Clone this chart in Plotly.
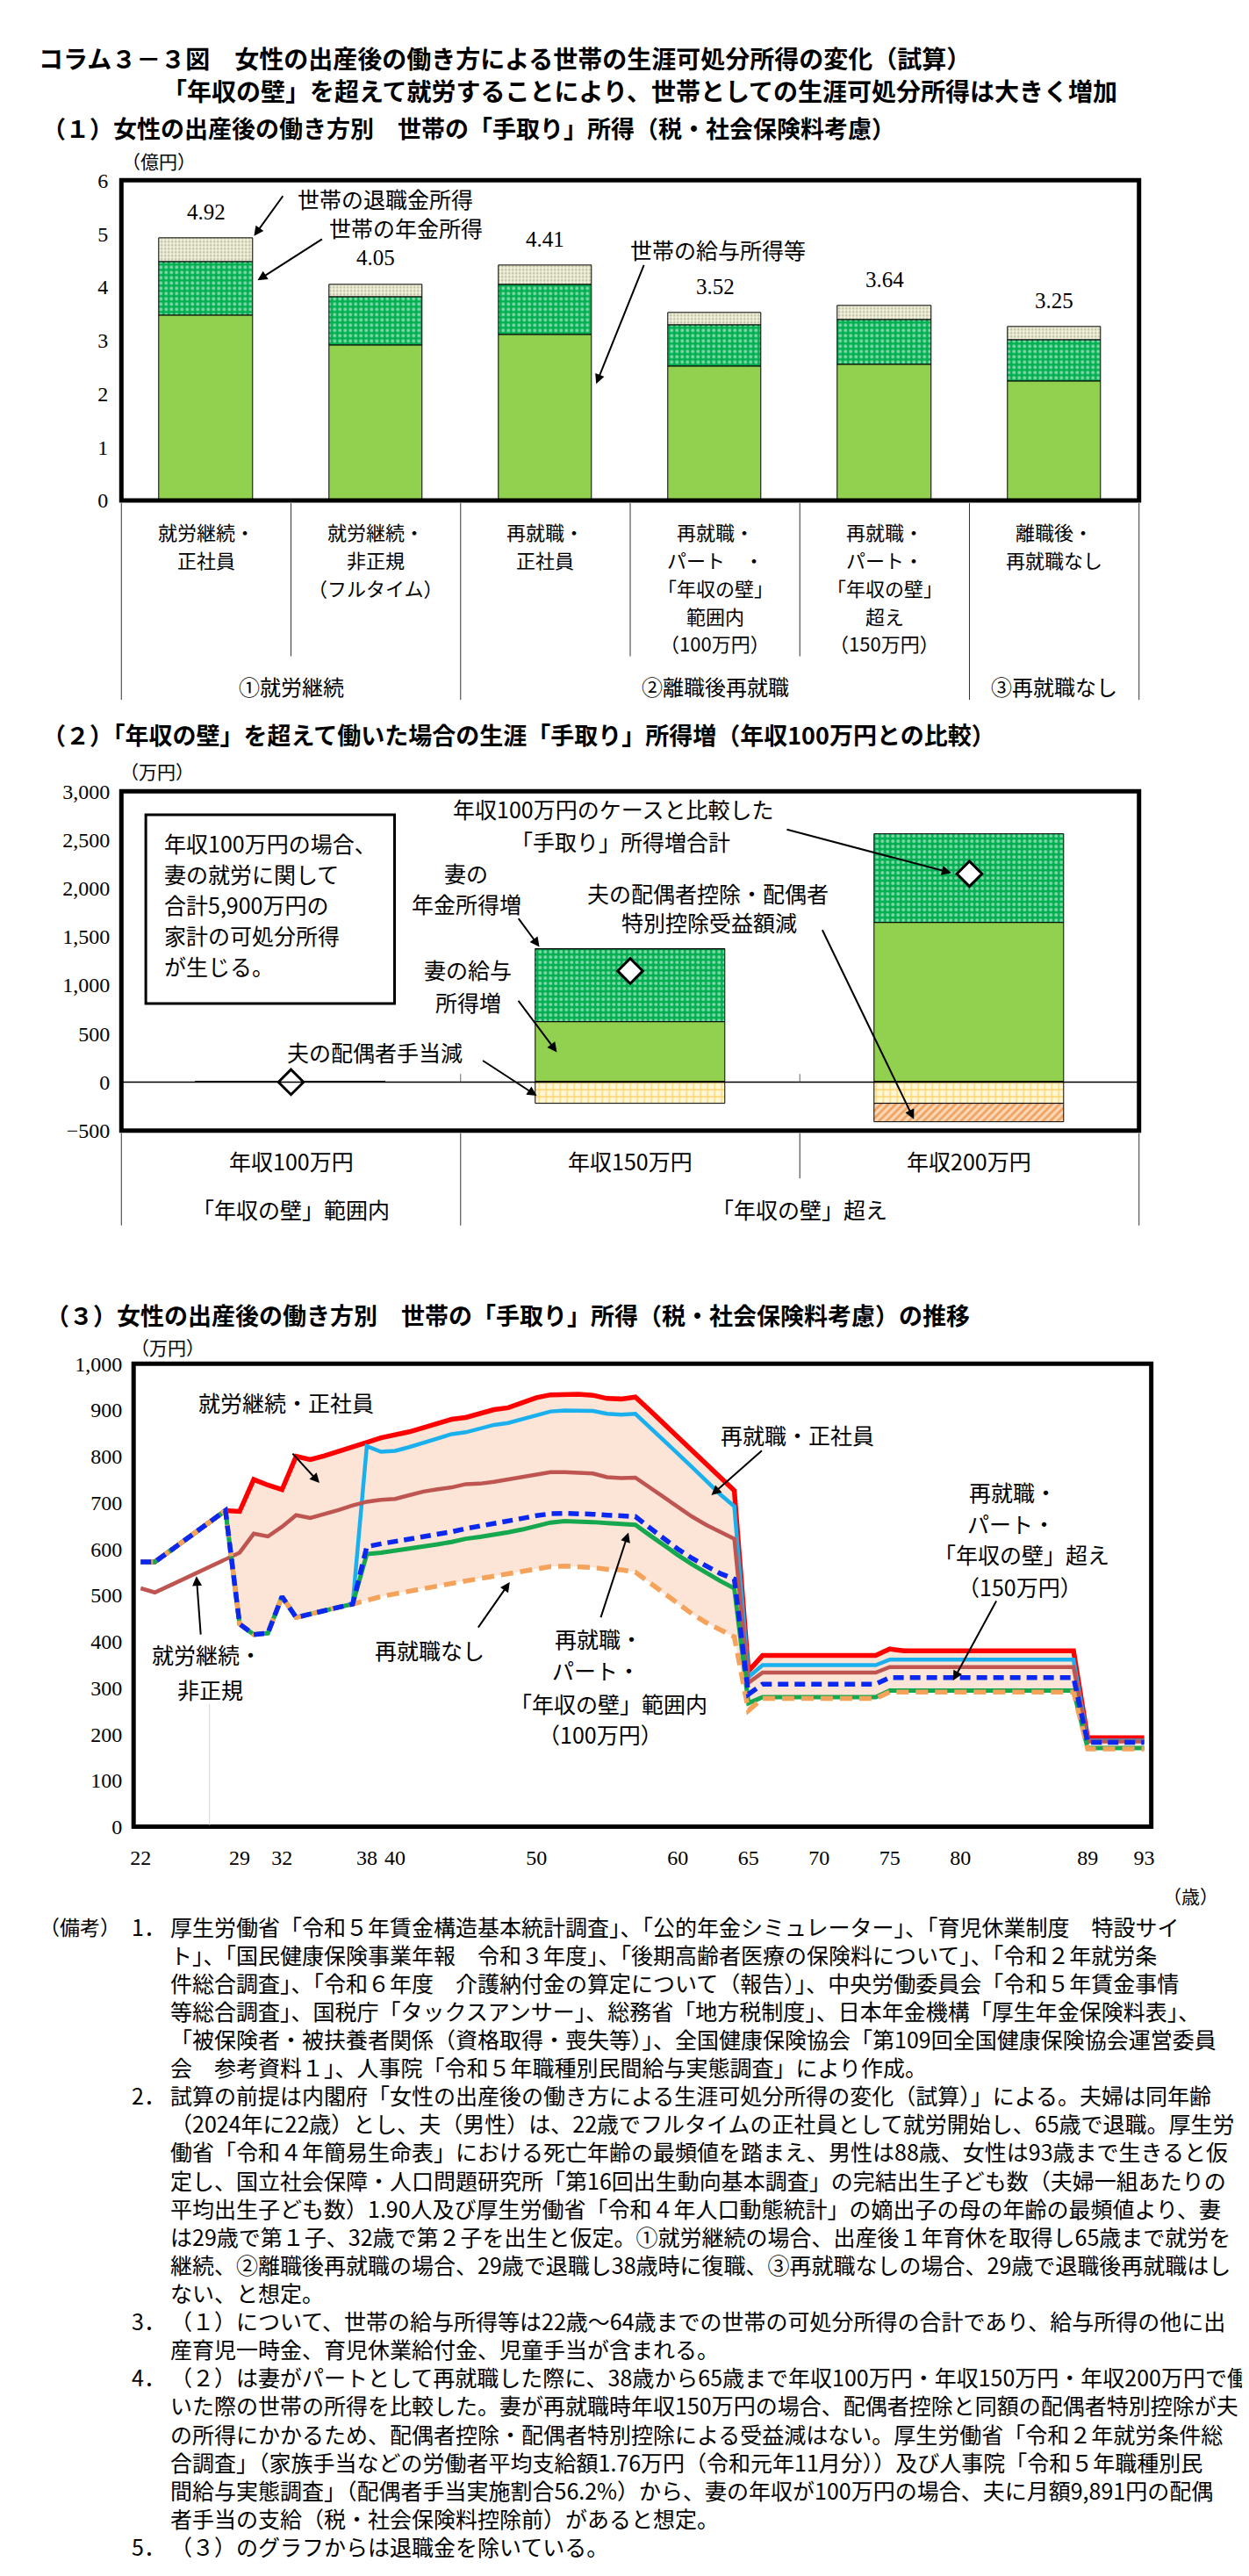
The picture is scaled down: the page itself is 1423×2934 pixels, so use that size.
import plotly.graph_objects as go

W, H = 1423, 2934
JP = "Noto Sans CJK JP"
SERIF = "Liberation Serif"


def px(x):
    return x / W


def py(y):
    return 1 - y / H


# ---------------- titles ----------------
title_main = "コラム３－３図　女性の出産後の働き方による世帯の生涯可処分所得の変化（試算）"
title_sub = "「年収の壁」を超えて就労することにより、世帯としての生涯可処分所得は大きく増加"
heading_1 = "（１）女性の出産後の働き方別　世帯の「手取り」所得（税・社会保険料考慮）"
heading_2 = "（２）「年収の壁」を超えて働いた場合の生涯「手取り」所得増（年収100万円との比較）"
heading_3 = "（３）女性の出産後の働き方別　世帯の「手取り」所得（税・社会保険料考慮）の推移"

# ---------------- panel 1 data ----------------
p1_labels = ["就労継続・<br>正社員",
             "就労継続・<br>非正規<br>（フルタイム）",
             "再就職・<br>正社員",
             "再就職・<br>パート　・<br>「年収の壁」<br>範囲内<br>（100万円）",
             "再就職・<br>パート・<br>「年収の壁」<br>超え<br>（150万円）",
             "離職後・<br>再就職なし"]
p1_groups = ["①就労継続", "②離職後再就職", "③再就職なし"]
p1_group_span = [(0, 1), (2, 4), (5, 5)]
p1_salary = [3.47, 2.91, 3.10, 2.52, 2.54, 2.23]
p1_pension = [1.00, 0.91, 0.94, 0.76, 0.85, 0.77]
p1_retire = [0.45, 0.23, 0.37, 0.24, 0.25, 0.25]
p1_total = [4.92, 4.05, 4.41, 3.52, 3.64, 3.25]

# ---------------- panel 2 data ----------------
p2_labels = ["年収100万円", "年収150万円", "年収200万円"]
p2_groups = ["「年収の壁」範囲内", "「年収の壁」超え"]
p2_group_span = [(0, 0), (1, 2)]
p2_salary = [0, 620, 1640]
p2_pension = [0, 750, 920]
p2_allowance = [0, -224, -224]
p2_deduction = [0, 0, -188]
p2_total = [0, 1146, 2148]
p2_box_lines = ["年収100万円の場合、", "妻の就労に関して", "合計5,900万円の", "家計の可処分所得", "が生じる。"]

# ---------------- panel 3 data ----------------
ages = list(range(22, 94))
p3_ticks = [22, 29, 32, 38, 40, 50, 60, 65, 70, 75, 80, 89, 93]
p3_red = [572, 572, 594, 616, 638, 660, 683,
          681, 750, 738, 728, 800, 793, 801, 810, 820,
          830, 840, 846, 853, 862, 872, 880, 884, 893, 901, 905, 916, 927, 933, 934, 934, 932, 925, 924, 928,
          900, 871, 842, 813, 784, 755, 726,
          336,
          370, 370, 370, 370, 370, 370, 370, 370, 370,
          384, 380, 380, 380, 380, 380, 380, 380, 380, 380, 380, 380, 380, 380,
          192, 192, 192, 192, 192]
p3_lightblue = [572, 572, 594, 616, 638, 660, 683,
                438, 415, 418, 497, 452, 460, 466, 474, 481,
                822, 810, 812, 820, 829, 838, 848, 852, 860, 868, 872, 880, 890, 897, 899, 899, 898, 892, 890, 892,
                864, 835, 806, 777, 748, 718, 692,
                323,
                349, 349, 349, 349, 349, 349, 349, 349, 349,
                361, 361, 361, 361, 361, 361, 361, 361, 361, 361, 361, 361, 361, 361,
                186, 186, 186, 186, 186]
p3_brown = [515, 506, 520, 534, 548, 562, 577,
            592, 633, 627, 648, 673, 667, 675, 684, 694,
            702, 706, 708, 716, 724, 729, 733, 740, 741, 745, 750, 754, 761, 766, 766, 765, 763, 755, 753, 754,
            733, 711, 690, 670, 652, 636, 622,
            311,
            333, 333, 333, 333, 333, 333, 333, 333, 333,
            345, 345, 345, 345, 345, 345, 345, 345, 345, 345, 345, 345, 345, 345,
            184, 184, 184, 184, 184]
p3_blue = [572, 572, 594, 616, 638, 660, 683,
           438, 415, 418, 497, 452, 460, 466, 474, 481,
           605, 611, 616, 621, 627, 632, 637, 644, 649, 654, 660, 666, 672, 676, 677, 677, 675, 673, 672, 670,
           646, 622, 600, 580, 562, 547, 535,
           286,
           308, 308, 308, 308, 308, 308, 308, 308, 308,
           322, 322, 322, 322, 322, 322, 322, 322, 322, 322, 322, 322, 322, 322,
           182, 182, 182, 182, 182]
p3_green = [572, 572, 594, 616, 638, 660, 683,
            438, 415, 418, 497, 452, 460, 466, 474, 481,
            589, 592, 596, 600, 605, 610, 615, 622, 626, 630, 636, 642, 650, 657, 660, 660, 658, 656, 655, 652,
            630, 608, 587, 567, 548, 531, 515,
            267,
            280, 280, 280, 280, 280, 280, 280, 280, 280,
            294, 294, 294, 294, 294, 294, 294, 294, 294, 294, 294, 294, 294, 294,
            170, 170, 170, 170, 170]
p3_orange = [572, 572, 594, 616, 638, 660, 683,
             438, 415, 418, 497, 452, 460, 466, 474, 481,
             490, 497, 503, 509, 515, 520, 526, 531, 536, 541, 546, 551, 557, 562, 563, 562, 560, 556, 555, 550,
             527, 503, 481, 460, 441, 425, 410,
             251,
             277, 277, 277, 277, 277, 277, 277, 277, 277,
             291, 291, 291, 291, 291, 291, 291, 291, 291, 291, 291, 291, 291, 291,
             168, 168, 168, 168, 168]

# ---------------- notes ----------------
notes = [
    ("1．", ["厚生労働省「令和５年賃金構造基本統計調査」、「公的年金シミュレーター」、「育児休業制度　特設サイ",
            "ト」、「国民健康保険事業年報　令和３年度」、「後期高齢者医療の保険料について」、「令和２年就労条",
            "件総合調査」、「令和６年度　介護納付金の算定について（報告）」、中央労働委員会「令和５年賃金事情",
            "等総合調査」、国税庁「タックスアンサー」、総務省「地方税制度」、日本年金機構「厚生年金保険料表」、",
            "「被保険者・被扶養者関係（資格取得・喪失等）」、全国健康保険協会「第109回全国健康保険協会運営委員",
            "会　参考資料１」、人事院「令和５年職種別民間給与実態調査」により作成。"]),
    ("2．", ["試算の前提は内閣府「女性の出産後の働き方による生涯可処分所得の変化（試算）」による。夫婦は同年齢",
            "（2024年に22歳）とし、夫（男性）は、22歳でフルタイムの正社員として就労開始し、65歳で退職。厚生労",
            "働省「令和４年簡易生命表」における死亡年齢の最頻値を踏まえ、男性は88歳、女性は93歳まで生きると仮",
            "定し、国立社会保障・人口問題研究所「第16回出生動向基本調査」の完結出生子ども数（夫婦一組あたりの",
            "平均出生子ども数）1.90人及び厚生労働省「令和４年人口動態統計」の嫡出子の母の年齢の最頻値より、妻",
            "は29歳で第１子、32歳で第２子を出生と仮定。①就労継続の場合、出産後１年育休を取得し65歳まで就労を",
            "継続、②離職後再就職の場合、29歳で退職し38歳時に復職、③再就職なしの場合、29歳で退職後再就職はし",
            "ない、と想定。"]),
    ("3．", ["（１）について、世帯の給与所得等は22歳～64歳までの世帯の可処分所得の合計であり、給与所得の他に出",
            "産育児一時金、育児休業給付金、児童手当が含まれる。"]),
    ("4．", ["（２）は妻がパートとして再就職した際に、38歳から65歳まで年収100万円・年収150万円・年収200万円で働",
            "いた際の世帯の所得を比較した。妻が再就職時年収150万円の場合、配偶者控除と同額の配偶者特別控除が夫",
            "の所得にかかるため、配偶者控除・配偶者特別控除による受益減はない。厚生労働省「令和２年就労条件総",
            "合調査」（家族手当などの労働者平均支給額1.76万円（令和元年11月分））及び人事院「令和５年職種別民",
            "間給与実態調査」（配偶者手当実施割合56.2%）から、妻の年収が100万円の場合、夫に月額9,891円の配偶",
            "者手当の支給（税・社会保険料控除前）があると想定。"]),
    ("5．", ["（３）のグラフからは退職金を除いている。"]),
]

# ---------------- layout geometry (pixels) ----------------
P1_L, P1_R, P1_T, P1_B = 127, 1293, 186, 554
P2_L, P2_R, P2_T, P2_B = 127, 1293, 888, 1278
P3_L, P3_R, P3_T, P3_B = 141, 1307, 1546, 2078

fig = go.Figure()

# panel 1 bars
fig.add_trace(go.Bar(x=list(range(6)), y=p1_salary, width=0.55, xaxis="x", yaxis="y",
                     marker=dict(color="#92D050", line=dict(color="black", width=1))))
fig.add_trace(go.Bar(x=list(range(6)), y=p1_pension, width=0.55, xaxis="x", yaxis="y",
                     marker=dict(color="#00B050", line=dict(color="black", width=1),
                                 pattern=dict(shape=".", fgcolor="white", bgcolor="#00B050",
                                              size=6, solidity=0.35))))
fig.add_trace(go.Bar(x=list(range(6)), y=p1_retire, width=0.55, xaxis="x", yaxis="y",
                     marker=dict(color="#EFEFD8", line=dict(color="black", width=1),
                                 pattern=dict(shape=".", fgcolor="#8E8E5E", bgcolor="#F4F4E2",
                                              size=4, solidity=0.4))))

# panel 2 bars
fig.add_trace(go.Bar(x=list(range(3)), y=p2_salary, width=0.56, xaxis="x2", yaxis="y2",
                     marker=dict(color="#92D050", line=dict(color="black", width=1))))
fig.add_trace(go.Bar(x=list(range(3)), y=p2_pension, width=0.56, xaxis="x2", yaxis="y2",
                     marker=dict(color="#00B050", line=dict(color="black", width=1),
                                 pattern=dict(shape=".", fgcolor="white", bgcolor="#00B050",
                                              size=6, solidity=0.35))))
fig.add_trace(go.Bar(x=list(range(3)), y=p2_allowance, width=0.56, xaxis="x2", yaxis="y2",
                     marker=dict(color="#FFD966", line=dict(color="black", width=1),
                                 pattern=dict(shape="+", fgcolor="#F5B400", bgcolor="#FFF6D5",
                                              size=8, solidity=0.3))))
fig.add_trace(go.Bar(x=list(range(3)), y=p2_deduction, width=0.56, xaxis="x2", yaxis="y2",
                     marker=dict(color="#F4B183", line=dict(color="black", width=1),
                                 pattern=dict(shape="/", fgcolor="#E36C0A", bgcolor="#FAD7B5",
                                              size=6, solidity=0.45))))
fig.add_trace(go.Scatter(x=list(range(3)), y=p2_total, mode="markers", xaxis="x2", yaxis="y2",
                         marker=dict(symbol="diamond", size=22, color="white",
                                     line=dict(color="black", width=3))))

# panel 3 lines
fig.add_trace(go.Scatter(x=ages, y=p3_orange, mode="lines", xaxis="x3", yaxis="y3",
                         line=dict(width=0, color="rgba(0,0,0,0)"), hoverinfo="skip"))
fig.add_trace(go.Scatter(x=ages, y=p3_red, mode="lines", xaxis="x3", yaxis="y3", fill="tonexty",
                         fillcolor="#FCE4D6", line=dict(width=0, color="rgba(0,0,0,0)"), hoverinfo="skip"))
fig.add_trace(go.Scatter(x=ages, y=p3_red, mode="lines", xaxis="x3", yaxis="y3",
                         line=dict(color="#FF0000", width=5.5)))
fig.add_trace(go.Scatter(x=ages, y=p3_lightblue, mode="lines", xaxis="x3", yaxis="y3",
                         line=dict(color="#1AB0EE", width=4.5)))
fig.add_trace(go.Scatter(x=ages, y=p3_brown, mode="lines", xaxis="x3", yaxis="y3",
                         line=dict(color="#BE5550", width=4.5)))
fig.add_trace(go.Scatter(x=ages, y=p3_green, mode="lines", xaxis="x3", yaxis="y3",
                         line=dict(color="#16A84E", width=5)))
fig.add_trace(go.Scatter(x=ages, y=p3_orange, mode="lines", xaxis="x3", yaxis="y3",
                         line=dict(color="#F5A25A", width=5.5, dash="14px,8px")))
fig.add_trace(go.Scatter(x=ages, y=p3_blue, mode="lines", xaxis="x3", yaxis="y3",
                         line=dict(color="#0A28F0", width=5.5, dash="12px,7px")))

# ---------------- annotations ----------------
ann = []


def txt(x, y, s, size, anchor="center", bold=False, family=JP):
    ann.append(dict(x=px(x), y=py(y), xref="paper", yref="paper", text=s, showarrow=False,
                    xanchor=anchor, yanchor="middle",
                    font=dict(family=family, size=size, color="black",
                              weight="bold" if bold else "normal")))


def arrow(x0, y0, x1, y1):
    ann.append(dict(x=px(x1), y=py(y1), xref="paper", yref="paper", text="", showarrow=True,
                    ax=x0 - x1, ay=y0 - y1, arrowhead=2, arrowsize=1.1, arrowwidth=2,
                    arrowcolor="black", standoff=0))


# titles
txt(30, 45, title_main, 28, "left", True)
txt(172, 83, title_sub, 28, "left", True)
txt(34, 126, heading_1, 27, "left", True)
txt(34, 823, heading_2, 27, "left", True)
txt(38, 1490, heading_3, 27, "left", True)

# units
txt(170, 163, "（億円）", 21)
txt(168, 865, "（万円）", 21)
txt(180, 1527, "（万円）", 21)
txt(1352, 2157, "（歳）", 21)

# panel 1 value labels
for i, v in enumerate(p1_total):
    ann.append(dict(x=i, y=v, xref="x", yref="y", text=f"{v:.2f}", showarrow=False,
                    yshift=30, font=dict(family=SERIF, size=25, color="black")))

# panel 1 category labels
for i, lab in enumerate(p1_labels):
    for k, line in enumerate(lab.split("<br>")):
        ann.append(dict(x=i, y=py(589 + 32.2 * k), xref="x", yref="paper", text=line,
                        showarrow=False, xanchor="center", yanchor="middle",
                        font=dict(family=JP, size=22, color="black")))
for g, (a, b) in zip(p1_groups, p1_group_span):
    ann.append(dict(x=(a + b) / 2, y=py(767), xref="x", yref="paper", text=g, showarrow=False,
                    xanchor="center", yanchor="middle", font=dict(family=JP, size=24, color="black")))

# panel 1 callouts
txt(327, 207, "世帯の退職金所得", 25, "left")
txt(363, 240, "世帯の年金所得", 25, "left")
txt(708, 265, "世帯の給与所得等", 25, "left")
arrow(313, 203, 279, 250)
arrow(358, 253, 283, 301)
arrow(726, 283, 671, 420)

# panel 2 category labels
for i, lab in enumerate(p2_labels):
    ann.append(dict(x=i, y=py(1313), xref="x2", yref="paper", text=lab, showarrow=False,
                    xanchor="center", yanchor="middle", font=dict(family=JP, size=25, color="black")))
for g, (a, b) in zip(p2_groups, p2_group_span):
    ann.append(dict(x=(a + b) / 2, y=py(1368), xref="x2", yref="paper", text=g, showarrow=False,
                    xanchor="center", yanchor="middle", font=dict(family=JP, size=25, color="black")))

# panel 2 text box
for k, line in enumerate(p2_box_lines):
    txt(174, 947 + 35.3 * k, line, 25, "left")

# panel 2 callouts
txt(690, 908, "年収100万円のケースと比較した", 25)
txt(699, 945, "「手取り」所得増合計", 25)
txt(522, 982, "妻の", 25)
txt(522, 1017, "年金所得増", 25)
txt(799, 1005, "夫の配偶者控除・配偶者", 25)
txt(801, 1038, "特別控除受益額減", 25)
txt(524, 1093, "妻の給与", 25)
txt(524, 1130, "所得増", 25)
txt(417, 1188, "夫の配偶者手当減", 25)
arrow(889, 932, 1078, 982)
arrow(581, 1033, 606, 1067)
arrow(930, 1048, 1035, 1265)
arrow(581, 1128, 626, 1188)
arrow(540, 1197, 603, 1238)

# panel 3 callouts
txt(316, 1590, "就労継続・正社員", 25)
arrow(322, 1648, 354, 1683)
txt(902, 1627, "再就職・正社員", 25)
arrow(862, 1645, 803, 1697)
txt(225, 1880, "就労継続・", 25)
txt(229, 1920, "非正規", 25)
arrow(218, 1858, 213, 1790)
txt(480, 1875, "再就職なし", 25)
arrow(535, 1850, 572, 1797)
txt(674, 1862, "再就職・", 25)
txt(671, 1898, "パート・", 25)
txt(685, 1936, "「年収の壁」範囲内", 25)
txt(676, 1971, "（100万円）", 25)
arrow(676, 1838, 708, 1740)
txt(1148, 1693, "再就職・", 25)
txt(1146, 1729, "パート・", 25)
txt(1159, 1765, "「年収の壁」超え", 25)
txt(1157, 1802, "（150万円）", 25)
arrow(1130, 1818, 1080, 1910)

# notes
NOTE_Y0, NOTE_DY = 2192, 32.4
txt(128, NOTE_Y0, "（備考）", 23, "right")
row = 0
for num, lines in notes:
    txt(137, NOTE_Y0 + NOTE_DY * row, num, 25, "left")
    for line in lines:
        txt(181, NOTE_Y0 + NOTE_DY * row, line, 25, "left")
        row += 1

# ---------------- shapes ----------------
shapes = []


def vline(x, y0, y1, color="#333333", width=1):
    shapes.append(dict(type="line", xref="paper", yref="paper", x0=px(x), x1=px(x),
                       y0=py(y0), y1=py(y1), line=dict(color=color, width=width)))


# plot frames
for xa, ya in (("x", "y"), ("x2", "y2"), ("x3", "y3")):
    shapes.append(dict(type="rect", xref=f"{xa} domain", yref=f"{ya} domain", x0=0, x1=1, y0=0, y1=1,
                       line=dict(color="black", width=5), layer="above"))

# panel 1 table dividers
slot1 = (P1_R - P1_L) / 6
for j in range(7):
    full = j in (0, 2, 5, 6)
    vline(P1_L + slot1 * j, P1_B + 3, 783 if full else 733)

# panel 2 zero line and table dividers
shapes.append(dict(type="line", xref="x2 domain", yref="y2", x0=0, x1=1, y0=0, y1=0,
                   line=dict(color="black", width=1.5)))
slot2 = (P2_R - P2_L) / 3
for j in range(4):
    vline(P2_L + slot2 * j, P2_B + 3, 1333 if j == 2 else 1387)
for j in (1, 2):
    vline(P2_L + slot2 * j, 1213, 1222, "#666666")

# panel 2 text box
shapes.append(dict(type="rect", xref="paper", yref="paper", x0=px(155), x1=px(440),
                   y0=py(915), y1=py(1132), line=dict(color="black", width=3), fillcolor="white",
                   layer="below"))

# faint leader line in panel 3
vline(228, 1937, 2076, "#D5D5D5")

# ---------------- axes ----------------
tickfont = dict(family=SERIF, size=24, color="black")
common_x = dict(showgrid=False, zeroline=False, showline=False, fixedrange=True)

fig.update_layout(
    width=W, height=H, margin=dict(l=0, r=0, t=0, b=0),
    paper_bgcolor="white", plot_bgcolor="white",
    showlegend=False, barmode="relative", bargap=0,
    font=dict(family=JP, color="black"),
    xaxis=dict(domain=[px(P1_L), px(P1_R)], range=[-0.5, 5.5], showticklabels=False, **common_x),
    yaxis=dict(domain=[py(P1_B), py(P1_T)], range=[0, 6], dtick=1, showgrid=False, zeroline=False,
               ticks="", tickfont=tickfont, ticklabelstandoff=14, anchor="x"),
    xaxis2=dict(domain=[px(P2_L), px(P2_R)], range=[-0.5, 2.5], showticklabels=False, anchor="y2",
                **common_x),
    yaxis2=dict(domain=[py(P2_B), py(P2_T)], range=[-500, 3000], dtick=500, tickformat=",",
                showgrid=False, zeroline=False, ticks="", tickfont=tickfont, ticklabelstandoff=12,
                anchor="x2"),
    xaxis3=dict(domain=[px(P3_L), px(P3_R)], range=[21.5, 93.5], tickmode="array", tickvals=p3_ticks,
                ticktext=[str(t) for t in p3_ticks], ticks="", tickfont=tickfont,
                ticklabelstandoff=18, anchor="y3", **common_x),
    yaxis3=dict(domain=[py(P3_B), py(P3_T)], range=[0, 1000], dtick=100, tickformat=",",
                showgrid=False, zeroline=False, ticks="", tickfont=tickfont, ticklabelstandoff=12,
                anchor="x3"),
    annotations=ann,
    shapes=shapes,
)

fig.write_html("out.html")
